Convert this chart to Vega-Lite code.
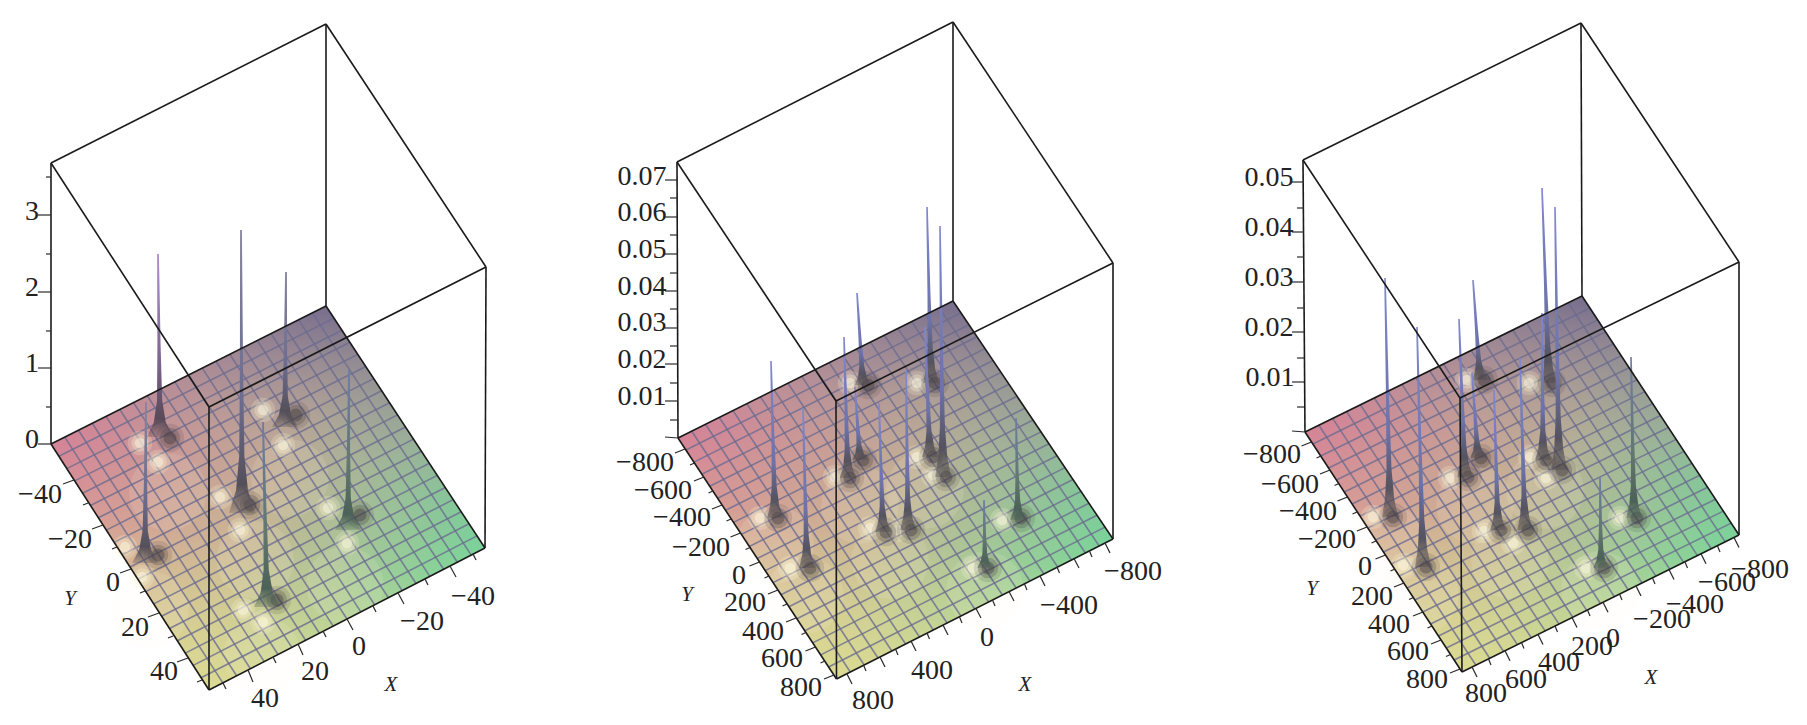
{
  "$schema": "https://vega.github.io/schema/vega-lite/v6.json",
  "width": 1807,
  "height": 725,
  "padding": 0,
  "autosize": {"type": "fit", "contains": "padding"},
  "background": "white",
  "config": {"view": {"stroke": null}},
  "datasets": {
    "plane": [
      {"p":1,"x":51,"top":444,"bottom":444},{"p":1,"x":209,"top":364.7,"bottom":690},{"p":1,"x":326,"top":306,"bottom":629.8},{"p":1,"x":485,"top":548,"bottom":548},
      {"p":2,"x":678,"top":438,"bottom":438},{"p":2,"x":836.5,"top":359,"bottom":679},{"p":2,"x":953,"top":301,"bottom":620},{"p":2,"x":1113,"top":539,"bottom":539},
      {"p":3,"x":1305,"top":432,"bottom":432},{"p":3,"x":1462,"top":354.9,"bottom":672},{"p":3,"x":1582,"top":296,"bottom":612.7},{"p":3,"x":1739,"top":535,"bottom":535}
    ],
    "grid": [
      {"x":58.9,"y":456.3,"x2":334,"y2":318.1},{"x":66.8,"y":468.6,"x2":341.9,"y2":330.2},{"x":74.7,"y":480.9,"x2":349.9,"y2":342.3},{"x":82.6,"y":493.2,"x2":357.8,"y2":354.4},{"x":90.5,"y":505.5,"x2":365.8,"y2":366.5},{"x":98.4,"y":517.8,"x2":373.7,"y2":378.6},{"x":106.3,"y":530.1,"x2":381.7,"y2":390.7},{"x":114.2,"y":542.4,"x2":389.6,"y2":402.8},{"x":122.1,"y":554.7,"x2":397.6,"y2":414.9},{"x":130,"y":567,"x2":405.5,"y2":427},{"x":137.9,"y":579.3,"x2":413.5,"y2":439.1},{"x":145.8,"y":591.6,"x2":421.4,"y2":451.2},{"x":153.7,"y":603.9,"x2":429.4,"y2":463.3},{"x":161.6,"y":616.2,"x2":437.3,"y2":475.4},{"x":169.5,"y":628.5,"x2":445.3,"y2":487.5},{"x":177.4,"y":640.8,"x2":453.2,"y2":499.6},{"x":185.3,"y":653.1,"x2":461.2,"y2":511.7},{"x":193.2,"y":665.4,"x2":469.1,"y2":523.8},{"x":201.1,"y":677.7,"x2":477.1,"y2":535.9},
      {"x":64.8,"y":437.1,"x2":222.8,"y2":682.9},{"x":78.5,"y":430.2,"x2":236.6,"y2":675.8},{"x":92.3,"y":423.3,"x2":250.4,"y2":668.7},{"x":106,"y":416.4,"x2":264.2,"y2":661.6},{"x":119.8,"y":409.5,"x2":278,"y2":654.5},{"x":133.5,"y":402.6,"x2":291.8,"y2":647.4},{"x":147.3,"y":395.7,"x2":305.6,"y2":640.3},{"x":161,"y":388.8,"x2":319.4,"y2":633.2},{"x":174.8,"y":381.9,"x2":333.2,"y2":626.1},{"x":188.5,"y":375,"x2":347,"y2":619},{"x":202.3,"y":368.1,"x2":360.8,"y2":611.9},{"x":216,"y":361.2,"x2":374.6,"y2":604.8},{"x":229.8,"y":354.3,"x2":388.4,"y2":597.7},{"x":243.5,"y":347.4,"x2":402.2,"y2":590.6},{"x":257.3,"y":340.5,"x2":416,"y2":583.5},{"x":271,"y":333.6,"x2":429.8,"y2":576.4},{"x":284.8,"y":326.7,"x2":443.6,"y2":569.3},{"x":298.5,"y":319.8,"x2":457.4,"y2":562.2},{"x":312.3,"y":312.9,"x2":471.2,"y2":555.1},
      {"x":685.9,"y":450,"x2":961,"y2":312.9},{"x":693.9,"y":462.1,"x2":969,"y2":324.8},{"x":701.8,"y":474.2,"x2":977,"y2":336.7},{"x":709.7,"y":486.2,"x2":985,"y2":348.6},{"x":717.6,"y":498.3,"x2":993,"y2":360.5},{"x":725.6,"y":510.3,"x2":1001,"y2":372.4},{"x":733.5,"y":522.4,"x2":1009,"y2":384.3},{"x":741.4,"y":534.4,"x2":1017,"y2":396.2},{"x":749.3,"y":546.5,"x2":1025,"y2":408.1},{"x":757.3,"y":558.5,"x2":1033,"y2":420},{"x":765.2,"y":570.6,"x2":1041,"y2":431.9},{"x":773.1,"y":582.6,"x2":1049,"y2":443.8},{"x":781,"y":594.7,"x2":1057,"y2":455.7},{"x":788.9,"y":606.7,"x2":1065,"y2":467.6},{"x":796.9,"y":618.8,"x2":1073,"y2":479.5},{"x":804.8,"y":630.8,"x2":1081,"y2":491.4},{"x":812.7,"y":642.9,"x2":1089,"y2":503.3},{"x":820.7,"y":654.9,"x2":1097,"y2":515.2},{"x":828.6,"y":667,"x2":1105,"y2":527.1},
      {"x":691.8,"y":431.2,"x2":850.3,"y2":672},{"x":705.5,"y":424.3,"x2":864.2,"y2":665},{"x":719.3,"y":417.5,"x2":878,"y2":658},{"x":733,"y":410.6,"x2":891.8,"y2":651},{"x":746.8,"y":403.8,"x2":905.6,"y2":644},{"x":760.5,"y":396.9,"x2":919.5,"y2":637},{"x":774.3,"y":390.1,"x2":933.3,"y2":630},{"x":788,"y":383.2,"x2":947.1,"y2":623},{"x":801.8,"y":376.4,"x2":960.9,"y2":616},{"x":815.5,"y":369.5,"x2":974.8,"y2":609},{"x":829.3,"y":362.7,"x2":988.6,"y2":602},{"x":843,"y":355.8,"x2":1002.4,"y2":595},{"x":856.8,"y":349,"x2":1016.2,"y2":588},{"x":870.5,"y":342.1,"x2":1030,"y2":581},{"x":884.3,"y":335.3,"x2":1043.9,"y2":574},{"x":898,"y":328.4,"x2":1057.7,"y2":567},{"x":911.8,"y":321.6,"x2":1071.5,"y2":560},{"x":925.5,"y":314.7,"x2":1085.4,"y2":553},{"x":939.3,"y":307.9,"x2":1099.2,"y2":546},
      {"x":1312.9,"y":444,"x2":1589.9,"y2":308},{"x":1320.7,"y":456,"x2":1597.7,"y2":319.9},{"x":1328.6,"y":468,"x2":1605.6,"y2":331.9},{"x":1336.4,"y":480,"x2":1613.4,"y2":343.8},{"x":1344.3,"y":492,"x2":1621.3,"y2":355.8},{"x":1352.1,"y":504,"x2":1629.1,"y2":367.7},{"x":1360,"y":516,"x2":1637,"y2":379.7},{"x":1367.8,"y":528,"x2":1644.8,"y2":391.6},{"x":1375.7,"y":540,"x2":1652.7,"y2":403.6},{"x":1383.5,"y":552,"x2":1660.5,"y2":415.5},{"x":1391.4,"y":564,"x2":1668.4,"y2":427.5},{"x":1399.2,"y":576,"x2":1676.2,"y2":439.4},{"x":1407.1,"y":588,"x2":1684.1,"y2":451.4},{"x":1414.9,"y":600,"x2":1691.9,"y2":463.3},{"x":1422.8,"y":612,"x2":1699.8,"y2":475.3},{"x":1430.6,"y":624,"x2":1707.6,"y2":487.2},{"x":1438.5,"y":636,"x2":1715.5,"y2":499.2},{"x":1446.3,"y":648,"x2":1723.3,"y2":511.1},{"x":1454.2,"y":660,"x2":1731.2,"y2":523.1},
      {"x":1318.9,"y":425.2,"x2":1475.9,"y2":665.2},{"x":1332.7,"y":418.4,"x2":1489.7,"y2":658.3},{"x":1346.6,"y":411.6,"x2":1503.6,"y2":651.5},{"x":1360.4,"y":404.8,"x2":1517.4,"y2":644.6},{"x":1374.3,"y":398,"x2":1531.3,"y2":637.8},{"x":1388.1,"y":391.2,"x2":1545.1,"y2":630.9},{"x":1402,"y":384.4,"x2":1559,"y2":624.1},{"x":1415.8,"y":377.6,"x2":1572.8,"y2":617.2},{"x":1429.7,"y":370.8,"x2":1586.7,"y2":610.4},{"x":1443.5,"y":364,"x2":1600.5,"y2":603.5},{"x":1457.4,"y":357.2,"x2":1614.4,"y2":596.7},{"x":1471.2,"y":350.4,"x2":1628.2,"y2":589.8},{"x":1485.1,"y":343.6,"x2":1642.1,"y2":583},{"x":1498.9,"y":336.8,"x2":1655.9,"y2":576.1},{"x":1512.8,"y":330,"x2":1669.8,"y2":569.3},{"x":1526.6,"y":323.2,"x2":1683.6,"y2":562.4},{"x":1540.5,"y":316.4,"x2":1697.5,"y2":555.6},{"x":1554.3,"y":309.6,"x2":1711.3,"y2":548.7},{"x":1568.2,"y":302.8,"x2":1725.2,"y2":541.9}
    ],
    "halo": [
      {"x":168,"y":492},{"x":150,"y":610},{"x":255,"y":560},{"x":290,"y":478},{"x":345,"y":585},{"x":262,"y":655},
      {"x":775,"y":545},{"x":805,"y":595},{"x":860,"y":505},{"x":890,"y":560},{"x":925,"y":490},{"x":985,"y":590},
      {"x":1390,"y":545},{"x":1420,"y":595},{"x":1475,"y":505},{"x":1510,"y":560},{"x":1545,"y":490},{"x":1600,"y":590}
    ],
    "glow": [
      {"x":140,"y":443},{"x":158,"y":462},{"x":125,"y":547},{"x":142,"y":577},{"x":220,"y":497},{"x":240,"y":530},{"x":263,"y":410},{"x":283,"y":445},{"x":328,"y":508},{"x":347,"y":543},{"x":243,"y":610},{"x":263,"y":622},
      {"x":760,"y":518},{"x":790,"y":568},{"x":835,"y":477},{"x":850,"y":383},{"x":870,"y":528},{"x":897,"y":530},{"x":917,"y":457},{"x":933,"y":475},{"x":917,"y":383},{"x":973,"y":568},{"x":1002,"y":520},
      {"x":1373,"y":517},{"x":1403,"y":565},{"x":1450,"y":478},{"x":1467,"y":380},{"x":1484,"y":531},{"x":1513,"y":543},{"x":1530,"y":457},{"x":1546,"y":478},{"x":1586,"y":568},{"x":1620,"y":518},{"x":1529,"y":383}
    ],
    "shade": [
      {"x":170,"y":438},{"x":158,"y":555},{"x":250,"y":505},{"x":296,"y":415},{"x":360,"y":515},{"x":277,"y":600},
      {"x":778,"y":518},{"x":810,"y":568},{"x":850,"y":478},{"x":868,"y":385},{"x":863,"y":460},{"x":886,"y":532},{"x":911,"y":530},{"x":935,"y":383},{"x":933,"y":457},{"x":946,"y":477},{"x":988,"y":568},{"x":1021,"y":518},
      {"x":1393,"y":517},{"x":1426,"y":567},{"x":1468,"y":477},{"x":1484,"y":380},{"x":1481,"y":458},{"x":1501,"y":530},{"x":1528,"y":530},{"x":1552,"y":383},{"x":1546,"y":460},{"x":1562,"y":470},{"x":1604,"y":568},{"x":1637,"y":518}
    ],
    "spikes": [
      {"id":"1a","tone":"mauve","y":254,"left":157.1,"right":158.9},{"id":"1a","tone":"mauve","y":345.5,"left":157.4,"right":160.6},{"id":"1a","tone":"mauve","y":400.4,"left":157,"right":162.2},{"id":"1a","tone":"mauve","y":422.4,"left":153.8,"right":165.8},{"id":"1a","tone":"mauve","y":437,"left":147,"right":173},
      {"id":"1b","tone":"slate","y":402,"left":145.1,"right":146.9},{"id":"1b","tone":"slate","y":482.5,"left":143.9,"right":147.1},{"id":"1b","tone":"slate","y":530.8,"left":142.6,"right":147.8},{"id":"1b","tone":"slate","y":550,"left":139.1,"right":151.1},{"id":"1b","tone":"slate","y":563,"left":132,"right":158},
      {"id":"1c","tone":"slate","y":230,"left":240.1,"right":241.9},{"id":"1c","tone":"slate","y":371.5,"left":239.9,"right":243.1},{"id":"1c","tone":"slate","y":456.4,"left":239.2,"right":244.4},{"id":"1c","tone":"slate","y":490.4,"left":236,"right":248},{"id":"1c","tone":"slate","y":513,"left":229,"right":255},
      {"id":"1d","tone":"slate","y":272,"left":285.1,"right":286.9},{"id":"1d","tone":"slate","y":349.5,"left":283.9,"right":287.1},{"id":"1d","tone":"slate","y":396,"left":282.6,"right":287.8},{"id":"1d","tone":"slate","y":414.6,"left":279,"right":291},{"id":"1d","tone":"slate","y":427,"left":272,"right":298},
      {"id":"1e","tone":"green","y":370,"left":348.1,"right":349.9},{"id":"1e","tone":"green","y":450,"left":346.9,"right":350.1},{"id":"1e","tone":"green","y":498,"left":345.6,"right":350.8},{"id":"1e","tone":"green","y":517,"left":342,"right":354},{"id":"1e","tone":"green","y":530,"left":335,"right":361},
      {"id":"1f","tone":"green","y":422,"left":262.1,"right":263.9},{"id":"1f","tone":"green","y":514.5,"left":263.4,"right":266.6},{"id":"1f","tone":"green","y":570,"left":263.6,"right":268.8},{"id":"1f","tone":"green","y":592.2,"left":260.7,"right":272.7},{"id":"1f","tone":"green","y":607,"left":254,"right":280},
      {"id":"2a","tone":"blue","y":361,"left":770.2,"right":771.8},{"id":"2a","tone":"blue","y":439.5,"left":771.5,"right":774.5},{"id":"2a","tone":"blue","y":486.6,"left":771.7,"right":776.7},{"id":"2a","tone":"blue","y":505.4,"left":770.2,"right":779.2},{"id":"2a","tone":"blue","y":518,"left":767,"right":783},
      {"id":"2b","tone":"blue","y":408,"left":802.2,"right":803.8},{"id":"2b","tone":"blue","y":488,"left":803.5,"right":806.5},{"id":"2b","tone":"blue","y":536,"left":803.7,"right":808.7},{"id":"2b","tone":"blue","y":555,"left":802.2,"right":811.2},{"id":"2b","tone":"blue","y":568,"left":799,"right":815},
      {"id":"2c","tone":"blue","y":337,"left":843.2,"right":844.8},{"id":"2c","tone":"blue","y":407.5,"left":844.5,"right":847.5},{"id":"2c","tone":"blue","y":449.8,"left":844.7,"right":849.7},{"id":"2c","tone":"blue","y":466.7,"left":843.2,"right":852.2},{"id":"2c","tone":"blue","y":478,"left":840,"right":856},
      {"id":"2d","tone":"blue","y":293,"left":856.2,"right":857.8},{"id":"2d","tone":"blue","y":339,"left":858.5,"right":861.5},{"id":"2d","tone":"blue","y":366.6,"left":859.3,"right":864.3},{"id":"2d","tone":"blue","y":377.6,"left":858,"right":867},{"id":"2d","tone":"blue","y":385,"left":855,"right":871},
      {"id":"2e","tone":"blue","y":387,"left":854.2,"right":855.8},{"id":"2e","tone":"blue","y":423.5,"left":856,"right":859},{"id":"2e","tone":"blue","y":445.4,"left":856.5,"right":861.5},{"id":"2e","tone":"blue","y":454.2,"left":855.1,"right":864.1},{"id":"2e","tone":"blue","y":460,"left":852,"right":868},
      {"id":"2f","tone":"blue","y":403,"left":878.2,"right":879.8},{"id":"2f","tone":"blue","y":467.5,"left":879.5,"right":882.5},{"id":"2f","tone":"blue","y":506.2,"left":879.7,"right":884.7},{"id":"2f","tone":"blue","y":521.7,"left":878.2,"right":887.2},{"id":"2f","tone":"blue","y":532,"left":875,"right":891},
      {"id":"2g","tone":"blue","y":370,"left":905.2,"right":906.8},{"id":"2g","tone":"blue","y":450,"left":905.5,"right":908.5},{"id":"2g","tone":"blue","y":498,"left":905.1,"right":910.1},{"id":"2g","tone":"blue","y":517,"left":903.3,"right":912.3},{"id":"2g","tone":"blue","y":530,"left":900,"right":916},
      {"id":"2h","tone":"blue","y":207,"left":926.2,"right":927.8},{"id":"2h","tone":"blue","y":295,"left":927.5,"right":930.5},{"id":"2h","tone":"blue","y":347.8,"left":927.7,"right":932.7},{"id":"2h","tone":"blue","y":368.9,"left":926.2,"right":935.2},{"id":"2h","tone":"blue","y":383,"left":923,"right":939},
      {"id":"2i","tone":"blue","y":327,"left":924.2,"right":925.8},{"id":"2i","tone":"blue","y":392,"left":926,"right":929},{"id":"2i","tone":"blue","y":431,"left":926.5,"right":931.5},{"id":"2i","tone":"blue","y":446.6,"left":925.1,"right":934.1},{"id":"2i","tone":"blue","y":457,"left":922,"right":938},
      {"id":"2j","tone":"blue","y":226,"left":939.2,"right":940.8},{"id":"2j","tone":"blue","y":351.5,"left":940,"right":943},{"id":"2j","tone":"blue","y":426.8,"left":939.9,"right":944.9},{"id":"2j","tone":"blue","y":456.9,"left":938.3,"right":947.3},{"id":"2j","tone":"blue","y":477,"left":935,"right":951},
      {"id":"2k","tone":"green","y":500,"left":983.2,"right":984.8},{"id":"2k","tone":"green","y":534,"left":983,"right":986},{"id":"2k","tone":"green","y":554.4,"left":982.3,"right":987.3},{"id":"2k","tone":"green","y":562.6,"left":980.4,"right":989.4},{"id":"2k","tone":"green","y":568,"left":977,"right":993},
      {"id":"2l","tone":"green","y":418,"left":1015.2,"right":1016.8},{"id":"2l","tone":"green","y":469,"left":1015.5,"right":1018.5},{"id":"2l","tone":"green","y":499.6,"left":1015.1,"right":1020.1},{"id":"2l","tone":"green","y":511.8,"left":1013.3,"right":1022.3},{"id":"2l","tone":"green","y":520,"left":1010,"right":1026},
      {"id":"3a","tone":"blue","y":278,"left":1384.2,"right":1385.8},{"id":"3a","tone":"blue","y":397.5,"left":1386,"right":1389},{"id":"3a","tone":"blue","y":469.2,"left":1386.5,"right":1391.5},{"id":"3a","tone":"blue","y":497.9,"left":1385.1,"right":1394.1},{"id":"3a","tone":"blue","y":517,"left":1382,"right":1398},
      {"id":"3b","tone":"blue","y":327,"left":1416.2,"right":1417.8},{"id":"3b","tone":"blue","y":447,"left":1418.5,"right":1421.5},{"id":"3b","tone":"blue","y":519,"left":1419.3,"right":1424.3},{"id":"3b","tone":"blue","y":547.8,"left":1418,"right":1427},{"id":"3b","tone":"blue","y":567,"left":1415,"right":1431},
      {"id":"3c","tone":"blue","y":319,"left":1458.2,"right":1459.8},{"id":"3c","tone":"blue","y":398,"left":1460.5,"right":1463.5},{"id":"3c","tone":"blue","y":445.4,"left":1461.3,"right":1466.3},{"id":"3c","tone":"blue","y":464.4,"left":1460,"right":1469},{"id":"3c","tone":"blue","y":477,"left":1457,"right":1473},
      {"id":"3d","tone":"blue","y":280,"left":1472.2,"right":1473.8},{"id":"3d","tone":"blue","y":330,"left":1475,"right":1478},{"id":"3d","tone":"blue","y":360,"left":1476.1,"right":1481.1},{"id":"3d","tone":"blue","y":372,"left":1474.9,"right":1483.9},{"id":"3d","tone":"blue","y":380,"left":1472,"right":1488},
      {"id":"3e","tone":"blue","y":373,"left":1471.2,"right":1472.8},{"id":"3e","tone":"blue","y":415.5,"left":1473.5,"right":1476.5},{"id":"3e","tone":"blue","y":441,"left":1474.3,"right":1479.3},{"id":"3e","tone":"blue","y":451.2,"left":1473,"right":1482},{"id":"3e","tone":"blue","y":458,"left":1470,"right":1486},
      {"id":"3f","tone":"blue","y":390,"left":1493.2,"right":1494.8},{"id":"3f","tone":"blue","y":460,"left":1494.5,"right":1497.5},{"id":"3f","tone":"blue","y":502,"left":1494.7,"right":1499.7},{"id":"3f","tone":"blue","y":518.8,"left":1493.2,"right":1502.2},{"id":"3f","tone":"blue","y":530,"left":1490,"right":1506},
      {"id":"3g","tone":"blue","y":358,"left":1519.2,"right":1520.8},{"id":"3g","tone":"blue","y":444,"left":1521,"right":1524},{"id":"3g","tone":"blue","y":495.6,"left":1521.5,"right":1526.5},{"id":"3g","tone":"blue","y":516.2,"left":1520.1,"right":1529.1},{"id":"3g","tone":"blue","y":530,"left":1517,"right":1533},
      {"id":"3h","tone":"blue","y":188,"left":1541.2,"right":1542.8},{"id":"3h","tone":"blue","y":285.5,"left":1544,"right":1547},{"id":"3h","tone":"blue","y":344,"left":1545.1,"right":1550.1},{"id":"3h","tone":"blue","y":367.4,"left":1543.9,"right":1552.9},{"id":"3h","tone":"blue","y":383,"left":1541,"right":1557},
      {"id":"3i","tone":"blue","y":313,"left":1541.2,"right":1542.8},{"id":"3i","tone":"blue","y":386.5,"left":1541,"right":1544},{"id":"3i","tone":"blue","y":430.6,"left":1540.3,"right":1545.3},{"id":"3i","tone":"blue","y":448.2,"left":1538.4,"right":1547.4},{"id":"3i","tone":"blue","y":460,"left":1535,"right":1551},
      {"id":"3j","tone":"blue","y":207,"left":1554.2,"right":1555.8},{"id":"3j","tone":"blue","y":338.5,"left":1555.5,"right":1558.5},{"id":"3j","tone":"blue","y":417.4,"left":1555.7,"right":1560.7},{"id":"3j","tone":"blue","y":449,"left":1554.2,"right":1563.2},{"id":"3j","tone":"blue","y":470,"left":1551,"right":1567},
      {"id":"3k","tone":"green","y":477,"left":1599.2,"right":1600.8},{"id":"3k","tone":"green","y":522.5,"left":1599,"right":1602},{"id":"3k","tone":"green","y":549.8,"left":1598.3,"right":1603.3},{"id":"3k","tone":"green","y":560.7,"left":1596.4,"right":1605.4},{"id":"3k","tone":"green","y":568,"left":1593,"right":1609},
      {"id":"3l","tone":"green","y":357,"left":1630.2,"right":1631.8},{"id":"3l","tone":"green","y":437.5,"left":1631,"right":1634},{"id":"3l","tone":"green","y":485.8,"left":1630.9,"right":1635.9},{"id":"3l","tone":"green","y":505,"left":1629.3,"right":1638.3},{"id":"3l","tone":"green","y":518,"left":1626,"right":1642}
    ],
    "box": [
      {"x":51,"y":163,"x2":326,"y2":24},{"x":326,"y":24,"x2":486,"y2":267},{"x":486,"y":267,"x2":209,"y2":407},{"x":209,"y":407,"x2":51,"y2":163},{"x":51,"y":163,"x2":51,"y2":444},{"x":326,"y":24,"x2":326,"y2":306},{"x":486,"y":267,"x2":485,"y2":548},{"x":209,"y":407,"x2":209,"y2":690},{"x":51,"y":444,"x2":326,"y2":306},{"x":326,"y":306,"x2":485,"y2":548},{"x":485,"y":548,"x2":209,"y2":690},{"x":209,"y":690,"x2":51,"y2":444},
      {"x":677,"y":162,"x2":953,"y2":22},{"x":953,"y":22,"x2":1113,"y2":263},{"x":1113,"y":263,"x2":836,"y2":401},{"x":836,"y":401,"x2":677,"y2":162},{"x":677,"y":162,"x2":678,"y2":438},{"x":953,"y":22,"x2":953,"y2":301},{"x":1113,"y":263,"x2":1113,"y2":539},{"x":836,"y":401,"x2":836.5,"y2":679},{"x":678,"y":438,"x2":953,"y2":301},{"x":953,"y":301,"x2":1113,"y2":539},{"x":1113,"y":539,"x2":836.5,"y2":679},{"x":836.5,"y":679,"x2":678,"y2":438},
      {"x":1303,"y":160,"x2":1581,"y2":23},{"x":1581,"y":23,"x2":1739,"y2":262},{"x":1739,"y":262,"x2":1460,"y2":398},{"x":1460,"y":398,"x2":1303,"y2":160},{"x":1303,"y":160,"x2":1305,"y2":432},{"x":1581,"y":23,"x2":1582,"y2":296},{"x":1739,"y":262,"x2":1739,"y2":535},{"x":1460,"y":398,"x2":1462,"y2":672},{"x":1305,"y":432,"x2":1582,"y2":296},{"x":1582,"y":296,"x2":1739,"y2":535},{"x":1739,"y":535,"x2":1462,"y2":672},{"x":1462,"y":672,"x2":1305,"y2":432}
    ],
    "ticks": [
      {"x":38,"y":215,"x2":51,"y2":215},{"x":38,"y":292,"x2":51,"y2":292},{"x":38,"y":368,"x2":51,"y2":368},{"x":38,"y":444,"x2":51,"y2":444},{"x":46,"y":177,"x2":51,"y2":177},{"x":46,"y":254,"x2":51,"y2":254},{"x":46,"y":331,"x2":51,"y2":331},{"x":46,"y":407,"x2":51,"y2":407},
      {"x":74,"y":480,"x2":63,"y2":484},{"x":103,"y":525,"x2":92,"y2":529},{"x":131,"y":569,"x2":120,"y2":573},{"x":159,"y":613,"x2":148,"y2":617},{"x":188,"y":658,"x2":177,"y2":662},{"x":88,"y":503,"x2":83,"y2":505},{"x":117,"y":547,"x2":112,"y2":549},{"x":145,"y":591,"x2":140,"y2":593},{"x":173,"y":636,"x2":168,"y2":638},{"x":202,"y":680,"x2":197,"y2":682},
      {"x":248,"y":670,"x2":253,"y2":682},{"x":298,"y":644,"x2":303,"y2":655},{"x":347,"y":619,"x2":353,"y2":630},{"x":398,"y":593,"x2":404,"y2":604},{"x":450,"y":566,"x2":456,"y2":577},{"x":223,"y":683,"x2":226,"y2":689},{"x":273,"y":657,"x2":276,"y2":663},{"x":323,"y":631,"x2":326,"y2":637},{"x":373,"y":606,"x2":376,"y2":612},{"x":425,"y":579,"x2":428,"y2":585},{"x":473,"y":554,"x2":476,"y2":560},
      {"x":665,"y":180,"x2":677,"y2":180},{"x":665,"y":217,"x2":677,"y2":217},{"x":665,"y":254,"x2":677,"y2":254},{"x":665,"y":291,"x2":677,"y2":291},{"x":665,"y":328,"x2":677,"y2":328},{"x":665,"y":364,"x2":677,"y2":364},{"x":665,"y":401,"x2":677,"y2":401},{"x":665,"y":437,"x2":678,"y2":438},{"x":670,"y":198,"x2":677,"y2":198},{"x":670,"y":235,"x2":677,"y2":235},{"x":670,"y":273,"x2":677,"y2":273},{"x":670,"y":309,"x2":677,"y2":309},{"x":670,"y":346,"x2":677,"y2":346},{"x":670,"y":383,"x2":677,"y2":383},{"x":670,"y":420,"x2":677,"y2":420},
      {"x":685,"y":449,"x2":675,"y2":453},{"x":704,"y":477,"x2":694,"y2":481},{"x":722,"y":505,"x2":712,"y2":509},{"x":740.5,"y":533,"x2":730.5,"y2":537},{"x":759.5,"y":562,"x2":749.5,"y2":566},{"x":778,"y":590,"x2":768,"y2":594},{"x":796,"y":618,"x2":786,"y2":622},{"x":815.5,"y":647,"x2":805.5,"y2":651},{"x":834,"y":675,"x2":824,"y2":679},{"x":694.5,"y":463,"x2":690,"y2":465},{"x":713,"y":491,"x2":708.5,"y2":493},{"x":731,"y":519,"x2":726.5,"y2":521},{"x":750,"y":547.5,"x2":745.5,"y2":549.5},{"x":769,"y":576,"x2":764.5,"y2":578},{"x":787,"y":604,"x2":782.5,"y2":606},{"x":806,"y":632.5,"x2":801.5,"y2":634.5},{"x":825,"y":661,"x2":820.5,"y2":663},
      {"x":847,"y":674,"x2":852,"y2":684},{"x":880,"y":657,"x2":885,"y2":667},{"x":911,"y":641,"x2":916,"y2":651},{"x":943,"y":625,"x2":948,"y2":635},{"x":976,"y":608.5,"x2":981,"y2":618},{"x":1009,"y":591.5,"x2":1014,"y2":601},{"x":1040,"y":576,"x2":1045,"y2":586},{"x":1074,"y":558.5,"x2":1079,"y2":568},{"x":1105,"y":543,"x2":1110,"y2":553},{"x":863.5,"y":665,"x2":866,"y2":671},{"x":895.5,"y":649,"x2":898,"y2":655},{"x":927,"y":633,"x2":929.5,"y2":639},{"x":959.5,"y":617,"x2":962,"y2":623},{"x":992.5,"y":600,"x2":995,"y2":606},{"x":1024.5,"y":584,"x2":1027,"y2":590},{"x":1057,"y":567,"x2":1059.5,"y2":573},{"x":1089.5,"y":551,"x2":1092,"y2":557},
      {"x":1292,"y":182,"x2":1304,"y2":182},{"x":1292,"y":232,"x2":1304,"y2":232},{"x":1292,"y":282,"x2":1304,"y2":282},{"x":1292,"y":332,"x2":1304,"y2":332},{"x":1292,"y":382,"x2":1304,"y2":382},{"x":1292,"y":431,"x2":1305,"y2":432},{"x":1297,"y":208,"x2":1304,"y2":208},{"x":1297,"y":257,"x2":1304,"y2":257},{"x":1297,"y":308,"x2":1304,"y2":308},{"x":1297,"y":358,"x2":1304,"y2":358},{"x":1297,"y":407,"x2":1304,"y2":407},
      {"x":1311.5,"y":442,"x2":1301.5,"y2":446},{"x":1330,"y":470,"x2":1320,"y2":474},{"x":1347.5,"y":497,"x2":1337.5,"y2":501},{"x":1367,"y":527,"x2":1357,"y2":531},{"x":1385.5,"y":555,"x2":1375.5,"y2":559},{"x":1404,"y":583,"x2":1394,"y2":587},{"x":1423,"y":612,"x2":1413,"y2":616},{"x":1441,"y":640,"x2":1431,"y2":644},{"x":1460,"y":669,"x2":1450,"y2":673},{"x":1321,"y":456,"x2":1316.5,"y2":458},{"x":1339,"y":483.5,"x2":1334.5,"y2":485.5},{"x":1357,"y":512,"x2":1352.5,"y2":514},{"x":1376,"y":541,"x2":1371.5,"y2":543},{"x":1395,"y":569,"x2":1390.5,"y2":571},{"x":1413.5,"y":597.5,"x2":1409,"y2":599.5},{"x":1432,"y":626,"x2":1427.5,"y2":628},{"x":1450.5,"y":654.5,"x2":1446,"y2":656.5},
      {"x":1472,"y":667,"x2":1477,"y2":677},{"x":1505,"y":650.7,"x2":1510,"y2":660.7},{"x":1538,"y":634.4,"x2":1543,"y2":644.4},{"x":1572,"y":617.6,"x2":1577,"y2":627.6},{"x":1603,"y":602.3,"x2":1608,"y2":612.3},{"x":1636,"y":586,"x2":1641,"y2":596},{"x":1669,"y":569.6,"x2":1674,"y2":579.6},{"x":1701,"y":553.8,"x2":1706,"y2":563.8},{"x":1734,"y":537.5,"x2":1739,"y2":547.5},{"x":1488.5,"y":659,"x2":1491,"y2":665},{"x":1521.5,"y":642.5,"x2":1524,"y2":648.5},{"x":1555,"y":626,"x2":1557.5,"y2":632},{"x":1587.5,"y":610,"x2":1590,"y2":616},{"x":1619.5,"y":594,"x2":1622,"y2":600},{"x":1652.5,"y":578,"x2":1655,"y2":584},{"x":1685,"y":562,"x2":1687.5,"y2":568},{"x":1717.5,"y":546,"x2":1720,"y2":552}
    ],
    "labels": [
      {"x":32,"y":212,"t":"3"},{"x":32,"y":288,"t":"2"},{"x":32,"y":364,"t":"1"},{"x":32,"y":440,"t":"0"},
      {"x":40,"y":495,"t":"−40"},{"x":70,"y":540,"t":"−20"},{"x":113,"y":583,"t":"0"},{"x":135,"y":628,"t":"20"},{"x":164,"y":672,"t":"40"},
      {"x":265,"y":699,"t":"40"},{"x":315,"y":672,"t":"20"},{"x":359,"y":647,"t":"0"},{"x":422,"y":622,"t":"−20"},{"x":473,"y":597,"t":"−40"},
      {"x":642,"y":177,"t":"0.07"},{"x":642,"y":213,"t":"0.06"},{"x":642,"y":250,"t":"0.05"},{"x":642,"y":287,"t":"0.04"},{"x":642,"y":323,"t":"0.03"},{"x":642,"y":360,"t":"0.02"},{"x":642,"y":397,"t":"0.01"},
      {"x":645,"y":463,"t":"−800"},{"x":663,"y":491,"t":"−600"},{"x":682,"y":518,"t":"−400"},{"x":701,"y":548,"t":"−200"},{"x":739,"y":576,"t":"0"},{"x":745,"y":603,"t":"200"},{"x":763,"y":632,"t":"400"},{"x":782,"y":659,"t":"600"},{"x":801,"y":688,"t":"800"},
      {"x":873,"y":701,"t":"800"},{"x":932,"y":671,"t":"400"},{"x":987,"y":638,"t":"0"},{"x":1069,"y":606,"t":"−400"},{"x":1133,"y":572,"t":"−800"},
      {"x":1269,"y":178,"t":"0.05"},{"x":1269,"y":228,"t":"0.04"},{"x":1269,"y":278,"t":"0.03"},{"x":1269,"y":328,"t":"0.02"},{"x":1270,"y":378,"t":"0.01"},
      {"x":1272,"y":455,"t":"−800"},{"x":1290,"y":485,"t":"−600"},{"x":1308,"y":512,"t":"−400"},{"x":1327,"y":540,"t":"−200"},{"x":1365,"y":567,"t":"0"},{"x":1372,"y":597,"t":"200"},{"x":1389,"y":625,"t":"400"},{"x":1408,"y":652,"t":"600"},{"x":1427,"y":680,"t":"800"},
      {"x":1486,"y":694,"t":"800"},{"x":1526,"y":680,"t":"600"},{"x":1559,"y":663,"t":"400"},{"x":1592,"y":647,"t":"200"},{"x":1613,"y":639,"t":"0"},{"x":1662,"y":620,"t":"−200"},{"x":1695,"y":605,"t":"−400"},{"x":1727,"y":583,"t":"−600"},{"x":1760,"y":570,"t":"−800"}
    ],
    "titles": [
      {"x":70,"y":599,"t":"Y"},{"x":391,"y":685,"t":"X"},
      {"x":687,"y":595,"t":"Y"},{"x":1025,"y":685,"t":"X"},
      {"x":1312,"y":589,"t":"Y"},{"x":1651,"y":678,"t":"X"}
    ]
  },
  "encoding": {
    "x": {"field": "x", "type": "quantitative", "scale": {"domain": [0, 1807], "nice": false, "zero": false}, "axis": null},
    "y": {"field": "y", "type": "quantitative", "scale": {"domain": [725, 0], "nice": false, "zero": false}, "axis": null}
  },
  "layer": [
    {
      "data": {"name": "plane"},
      "mark": {"type": "area", "color": {"gradient": "linear", "x1": 0, "y1": 0.3, "x2": 1, "y2": 0.7, "stops": [{"offset": 0, "color": "#dc7a96"}, {"offset": 0.5, "color": "#c6b094"}, {"offset": 1, "color": "#68d69a"}]}},
      "encoding": {"y": {"field": "top", "type": "quantitative"}, "y2": {"field": "bottom"}, "detail": {"field": "p"}}
    },
    {
      "data": {"name": "plane"},
      "mark": {"type": "area", "color": {"gradient": "linear", "x1": 0.6, "y1": 0, "x2": 0.4, "y2": 1, "stops": [{"offset": 0, "color": "rgba(112,104,140,0.9)"}, {"offset": 0.42, "color": "rgba(165,160,160,0.15)"}, {"offset": 0.62, "color": "rgba(225,235,150,0.15)"}, {"offset": 1, "color": "rgba(222,222,145,0.92)"}]}},
      "encoding": {"y": {"field": "top", "type": "quantitative"}, "y2": {"field": "bottom"}, "detail": {"field": "p"}}
    },
    {
      "data": {"name": "halo"},
      "mark": {"type": "point", "filled": true, "color": "#fff8e8", "opacity": 0.12, "size": 6000}
    },
    {
      "data": {"name": "grid"},
      "mark": {"type": "rule", "color": "#6b6b90", "strokeWidth": 1.6, "opacity": 0.8},
      "encoding": {"x2": {"field": "x2"}, "y2": {"field": "y2"}}
    },
    {
      "data": {"name": "glow"},
      "mark": {"type": "point", "filled": true, "color": "#fbf6d4", "opacity": 0.22, "size": 600}
    },
    {
      "data": {"name": "glow"},
      "mark": {"type": "point", "filled": true, "color": "#fbf6d4", "opacity": 0.3, "size": 300}
    },
    {
      "data": {"name": "glow"},
      "mark": {"type": "point", "filled": true, "color": "#fffbe4", "opacity": 0.45, "size": 110}
    },
    {
      "data": {"name": "shade"},
      "mark": {"type": "point", "filled": true, "color": "#3f3a40", "opacity": 0.14, "size": 800}
    },
    {
      "data": {"name": "shade"},
      "mark": {"type": "point", "filled": true, "color": "#3f3a40", "opacity": 0.25, "size": 420}
    },
    {
      "data": {"name": "shade"},
      "mark": {"type": "point", "filled": true, "color": "#3f3a40", "opacity": 0.4, "size": 170}
    },
    {
      "data": {"name": "spikes"},
      "transform": [{"filter": "datum.tone == 'mauve'"}],
      "mark": {"type": "area", "orient": "horizontal", "color": {"gradient": "linear", "x1": 0, "y1": 0, "x2": 0, "y2": 1, "stops": [{"offset": 0, "color": "#b090cc"}, {"offset": 0.6, "color": "#7c6490"}, {"offset": 0.9, "color": "#5a4a58"}, {"offset": 1, "color": "rgba(80,66,76,0.25)"}]}},
      "encoding": {"x": {"field": "left", "type": "quantitative"}, "x2": {"field": "right"}, "detail": {"field": "id"}}
    },
    {
      "data": {"name": "spikes"},
      "transform": [{"filter": "datum.tone == 'slate'"}],
      "mark": {"type": "area", "orient": "horizontal", "color": {"gradient": "linear", "x1": 0, "y1": 0, "x2": 0, "y2": 1, "stops": [{"offset": 0, "color": "#85859e"}, {"offset": 0.6, "color": "#6c6c90"}, {"offset": 0.9, "color": "#54505a"}, {"offset": 1, "color": "rgba(78,72,78,0.25)"}]}},
      "encoding": {"x": {"field": "left", "type": "quantitative"}, "x2": {"field": "right"}, "detail": {"field": "id"}}
    },
    {
      "data": {"name": "spikes"},
      "transform": [{"filter": "datum.tone == 'green'"}],
      "mark": {"type": "area", "orient": "horizontal", "color": {"gradient": "linear", "x1": 0, "y1": 0, "x2": 0, "y2": 1, "stops": [{"offset": 0, "color": "#6d7da8"}, {"offset": 0.6, "color": "#62786e"}, {"offset": 0.9, "color": "#4c6258"}, {"offset": 1, "color": "rgba(68,90,80,0.25)"}]}},
      "encoding": {"x": {"field": "left", "type": "quantitative"}, "x2": {"field": "right"}, "detail": {"field": "id"}}
    },
    {
      "data": {"name": "spikes"},
      "transform": [{"filter": "datum.tone == 'blue'"}],
      "mark": {"type": "area", "orient": "horizontal", "color": {"gradient": "linear", "x1": 0, "y1": 0, "x2": 0, "y2": 1, "stops": [{"offset": 0, "color": "#8088d0"}, {"offset": 0.65, "color": "#6d72a8"}, {"offset": 0.88, "color": "#55535f"}, {"offset": 1, "color": "rgba(70,66,68,0.3)"}]}},
      "encoding": {"x": {"field": "left", "type": "quantitative"}, "x2": {"field": "right"}, "detail": {"field": "id"}}
    },
    {
      "data": {"name": "box"},
      "mark": {"type": "rule", "color": "#1a1a1a", "strokeWidth": 1.6},
      "encoding": {"x2": {"field": "x2"}, "y2": {"field": "y2"}}
    },
    {
      "data": {"name": "ticks"},
      "mark": {"type": "rule", "color": "#2a2a2a", "strokeWidth": 1.2},
      "encoding": {"x2": {"field": "x2"}, "y2": {"field": "y2"}}
    },
    {
      "data": {"name": "labels"},
      "mark": {"type": "text", "font": "Liberation Serif", "fontSize": 28, "color": "#222222", "align": "center", "baseline": "middle"},
      "encoding": {"text": {"field": "t"}}
    },
    {
      "data": {"name": "titles"},
      "mark": {"type": "text", "font": "Liberation Serif", "fontStyle": "italic", "fontSize": 21, "color": "#222222", "align": "center", "baseline": "middle"},
      "encoding": {"text": {"field": "t"}}
    }
  ]
}
